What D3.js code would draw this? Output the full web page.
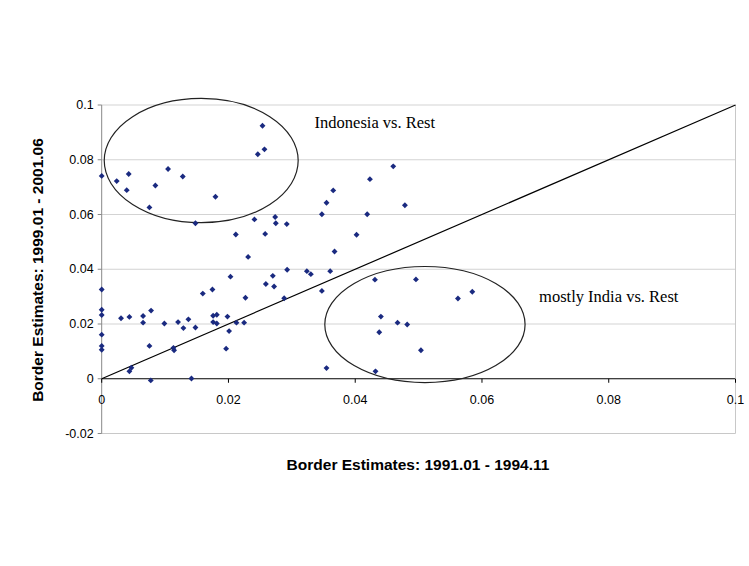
<!DOCTYPE html>
<html><head><meta charset="utf-8">
<script src="https://cdn.jsdelivr.net/npm/d3@7"></script>
<style>body{margin:0;background:#fff}</style>
</head><body>
<svg id="c" width="749" height="566"></svg>
<script>
// x: 1991.01-1994.11, y: 1999.01-2001.06
var xVals = [0,.00237,.00426,.00395,.00847,.00753,.01047,.01279,.01795,.01479,.02463,.02537,.02568,.0241,.02737,.02747,.0292,.02116,.02579,.03474,.03547,.03653,.03674,.0231,.02032,.02926,.027,.0259,.0272,.03237,.033,.03605,.03474,.02879,.02268,.01595,.01747,0,0,0,0,0,0,.00305,.00437,.00653,.00653,.00779,.00989,.01205,.01289,.01368,.01479,.01758,.01816,.01758,.01816,.01984,.02126,.02247,.0201,.01963,.00753,.01132,.01142,.00468,.00437,.00774,.01416,.03547,.046,.04232,.04784,.04189,.04021,.04311,.04958,.05621,.05847,.04405,.04379,.04668,.0482,.05037,.0432];
var yVals = [.0741,.0722,.0748,.0689,.0706,.0626,.0766,.0739,.0665,.0568,.082,.0924,.0838,.0582,.0591,.0568,.0565,.0527,.0529,.0601,.0643,.0688,.0465,.0445,.0373,.0398,.0376,.0346,.0337,.0393,.0382,.0393,.0321,.0294,.0296,.0311,.0326,.0326,.0252,.0233,.0161,.012,.0106,.0221,.0226,.0229,.0205,.0249,.0202,.0207,.0185,.0217,.0187,.023,.0234,.0207,.0202,.0227,.0205,.0205,.0174,.011,.012,.0113,.0104,.004,.0027,-.0006,.0001,.0039,.0776,.0729,.0634,.0601,.0526,.0362,.0363,.0293,.0318,.0227,.017,.0205,.0198,.0104,.0027];
var xTicks = [0,0.02,0.04,0.06,0.08,0.1];
var yTicks = [-0.02,0,0.02,0.04,0.06,0.08,0.1];
var notes = [
  {text:"Indonesia vs. Rest", cx:.0157, cy:.0797, rx:.0153, ry:.0227, tx:.0431, ty:.0915},
  {text:"mostly India vs. Rest", cx:.051, cy:.0198, rx:.0158, ry:.0212, tx:.080, ty:.0282}
];

var svg = d3.select('#c');
var x = d3.scaleLinear().domain([0,0.1]).range([101.7,735.5]);
var y = d3.scaleLinear().domain([-0.02,0.1]).range([433.5,105]);

// grid
svg.selectAll('.g').data(yTicks.slice(1)).enter().append('line')
  .attr('x1',x(0)).attr('x2',x(0.1)).attr('y1',d=>y(d)).attr('y2',d=>y(d))
  .attr('stroke',d=>d===0?'#000':'#c8c8c8').attr('stroke-width',d=>d===0?1:0.8);
svg.append('line').attr('x1',x(0.1)).attr('x2',x(0.1)).attr('y1',y(0.1)).attr('y2',y(-0.02)).attr('stroke','#c8c8c8');
svg.append('line').attr('x1',x(0)).attr('x2',x(0.1)).attr('y1',y(-0.02)).attr('y2',y(-0.02)).attr('stroke','#c8c8c8');
svg.append('line').attr('x1',x(0)).attr('x2',x(0)).attr('y1',y(0.1)).attr('y2',y(-0.02)).attr('stroke','#888');

// tick marks and labels
svg.selectAll('.yt').data(yTicks).enter().append('text')
  .attr('x',x(0)-8).attr('y',d=>y(d)+4).attr('text-anchor','end')
  .attr('font-family','Liberation Sans, Arial').attr('font-size',12.5).text(d=>String(+d.toFixed(2)));
svg.selectAll('.ytm').data(yTicks).enter().append('line')
  .attr('x1',x(0)-4).attr('x2',x(0)).attr('y1',d=>y(d)).attr('y2',d=>y(d)).attr('stroke','#888');
svg.selectAll('.xt').data(xTicks).enter().append('text')
  .attr('x',d=>x(d)).attr('y',y(0)+25).attr('text-anchor','middle')
  .attr('font-family','Liberation Sans, Arial').attr('font-size',12.5).text(d=>String(+d.toFixed(2)));
svg.selectAll('.xtm').data(xTicks).enter().append('line')
  .attr('x1',d=>x(d)).attr('x2',d=>x(d)).attr('y1',y(0)).attr('y2',y(0)+4).attr('stroke','#000');

// y = x line
svg.append('line').attr('x1',x(0)).attr('y1',y(0)).attr('x2',x(0.1)).attr('y2',y(0.1)).attr('stroke','#000').attr('stroke-width',1.2);

// ellipses and notes
svg.selectAll('.el').data(notes).enter().append('ellipse')
  .attr('cx',d=>x(d.cx)).attr('cy',d=>y(d.cy))
  .attr('rx',d=>x(d.rx)-x(0)).attr('ry',d=>y(0)-y(d.ry))
  .attr('fill','none').attr('stroke','#222').attr('stroke-width',1.2);
svg.selectAll('.nt').data(notes).enter().append('text')
  .attr('x',d=>x(d.tx)).attr('y',d=>y(d.ty)).attr('text-anchor','middle')
  .attr('font-family','Liberation Serif, Times New Roman').attr('font-size',16.5).text(d=>d.text);

// points
svg.selectAll('.p').data(xVals).enter().append('path')
  .attr('d',d3.symbol(d3.symbolDiamond2,22))
  .attr('transform',(d,i)=>'translate('+x(d)+','+y(yVals[i])+')')
  .attr('fill','#1a2a80');

svg.append('text').attr('x',418).attr('y',470).attr('text-anchor','middle')
  .attr('font-family','Liberation Sans, Arial').attr('font-weight','bold').attr('font-size',15.5)
  .text('Border Estimates: 1991.01 - 1994.11');
svg.append('text').attr('transform','translate(43,270) rotate(-90)').attr('text-anchor','middle')
  .attr('font-family','Liberation Sans, Arial').attr('font-weight','bold').attr('font-size',15.5)
  .text('Border Estimates: 1999.01 - 2001.06');
</script>
</body></html>
